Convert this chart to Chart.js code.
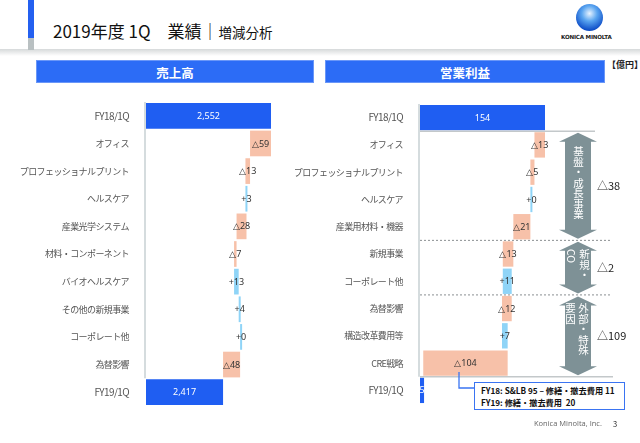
<!DOCTYPE html>
<html>
<head>
<meta charset="utf-8">
<script src="https://cdn.jsdelivr.net/npm/chart.js@4"></script>
<style>
  body { margin: 0; background: #fff; font-family: "Noto Sans CJK JP", "Noto Sans", sans-serif; }
  #page { position: relative; width: 640px; height: 443px; overflow: hidden; background: #fff; }
  .abs { position: absolute; }
  #stripe { left: 28px; top: 0; width: 6px; height: 38px; background: #2460f0; }
  #stripe2 { left: 28px; top: 38px; width: 6px; height: 12px; background: #b9c0c2; }
  #shadow { left: 0; top: 49px; width: 640px; height: 7px; background: linear-gradient(#d6d9da, #fff); }
  #title { left: 53px; top: 18px; font-size: 17px; color: #111; white-space: nowrap; }
  #title small { font-size: 13.5px; }
  .head { top: 60px; height: 23px; line-height: 23px; background: #2c6cf6; border: 1px solid #6a97f8; color: #fff;
          font-weight: bold; font-size: 12.5px; text-align: center; box-sizing: border-box; }
  #unit { left: 607px; top: 58px; font-size: 9px; font-weight: bold; color: #222; }
  #logo { left: 576px; top: 4px; width: 27px; height: 27px; border-radius: 50%;
          background: radial-gradient(circle at 50% 35%, #e8f3ff 0%, #5aa5f0 35%, #0f4fc8 75%, #0a3690 100%); }
  #logotext { left: 561px; top: 34px; font-size: 5.6px; font-weight: bold; color: #222; font-family: "DejaVu Sans"; letter-spacing: -0.2px; }
  .vt { writing-mode: vertical-rl; color: #fff; font-size: 10.5px; line-height: 13px; white-space: nowrap; }
  #note { left: 474px; top: 382px; width: 151px; height: 28px; border: 1.5px solid #3a74f2; box-sizing: border-box; background: #fff;
          font-size: 8.2px; font-weight: bold; color: #111; line-height: 12px; padding: 1px 0 0 6px; white-space: nowrap; }
  #foot { left: 534px; top: 418px; font-size: 7.5px; color: #666; font-family: "Open Sans"; }
  #pg { left: 613px; top: 418px; font-size: 7.5px; color: #222; }
</style>
</head>
<body>
<div id="page">
  <div class="abs" id="shadow"></div>
  <div class="abs" id="stripe"></div>
  <div class="abs" id="stripe2"></div>
  <div class="abs" id="title">2019年度 1Q　業績｜<small>増減分析</small></div>
  <div class="abs" id="logo"></div>
  <div class="abs" id="logotext">KONICA MINOLTA</div>
  <div class="abs head" style="left:36px;width:278px;">売上高</div>
  <div class="abs head" style="left:325px;width:280px;">営業利益</div>
  <div class="abs" id="unit">【億円】</div>

  <canvas class="abs" id="salesChart" width="290" height="304" style="left:20px;top:102px;"></canvas>
  <canvas class="abs" id="profitChart" width="345" height="300" style="left:295px;top:104px;"></canvas>

  <div class="abs vt" style="left:572px;top:146px;">基盤・成長事業</div>
  <div class="abs vt" style="left:565px;top:249px;">新規・<br>CO</div>
  <div class="abs vt" style="left:564px;top:303px;">外部・特殊<br>要因</div>

  <div class="abs" id="note">FY18: S&amp;LB 95 – 修繕・撤去費用 11<br>FY19: 修繕・撤去費用&nbsp; 20</div>
  <div class="abs" id="foot">Konica Minolta, Inc.</div>
  <div class="abs" id="pg">3</div>
</div>
<script>
const salesCats = ["FY18/1Q", "オフィス", "プロフェッショナルプリント", "ヘルスケア", "産業光学システム",
    "材料・コンポーネント", "バイオヘルスケア", "その他の新規事業", "コーポレート他", "為替影響", "FY19/1Q"];
const salesValues = [2552, -59, -13, 3, -28, -7, 13, 4, 0, -48, 2417];

const profitCats = ["FY18/1Q", "オフィス", "プロフェッショナルプリント", "ヘルスケア", "産業用材料・機器",
    "新規事業", "コーポレート他", "為替影響", "構造改革費用等", "CRE戦略", "FY19/1Q"];
const profitValues = [154, -13, -5, 0, -21, -13, 11, -12, 7, -104, 5];

// group totals shown next to the arrows, and the category index where each group ends
const groupLabels = ["△38", "△2", "△109"];
const groupEnds = [4, 6, 9];

const TOTAL = "#1f5ef2", NEG = "#f7c1a9", POS = "#8fd4f7";

function waterfall(values, base) {
    let run = 0;
    return values.map((v, i) => {
        if (i === 0 || i === values.length - 1) { run = v; return [base, v]; }
        const from = run;
        run += v;
        return [from, run];
    });
}

function colours(values) {
    return values.map((v, i) => (i === 0 || i === values.length - 1) ? TOTAL : (v < 0 ? NEG : POS));
}

function labelText(v, i, n) {
    if (i === 0 || i === n - 1) return v.toLocaleString("en-US");
    return v < 0 ? "△" + Math.abs(v) : "+" + v;
}

function boundary(scale, i) {
    return (scale.getPixelForValue(i) + scale.getPixelForValue(i + 1)) / 2;
}

// tighter tick labels, closer to the narrow font of the slide
const tightTicks = {
    id: "tightTicks",
    beforeDraw(chart) { chart.ctx.letterSpacing = "-0.6px"; },
    beforeDatasetsDraw(chart) { chart.ctx.letterSpacing = "0px"; }
};

const barLabels = {
    id: "barLabels",
    afterDatasetsDraw(chart) {
        const ctx = chart.ctx;
        const values = chart.options.plugins.barLabels.values;
        const meta = chart.getDatasetMeta(0);
        ctx.save();
        ctx.font = "9px 'Noto Sans', sans-serif";
        ctx.textAlign = "center";
        ctx.textBaseline = "middle";
        meta.data.forEach((bar, i) => {
            const total = i === 0 || i === values.length - 1;
            ctx.fillStyle = total ? "#fff" : "#333";
            ctx.fillText(labelText(values[i], i, values.length), (bar.x + bar.base) / 2, bar.y + 0.5);
        });
        // y axis line, stops at the last category
        const y = chart.scales.y, a = chart.chartArea;
        ctx.strokeStyle = "#d5dcde";
        ctx.lineWidth = 2;
        ctx.beginPath();
        ctx.moveTo(a.left - 1, a.top - 2);
        ctx.lineTo(a.left - 1, boundary(y, values.length - 2));
        ctx.stroke();
        ctx.restore();
    }
};

const groups = {
    id: "groups",
    afterDraw(chart) {
        if (!chart.options.plugins.groups.on) return;
        const ctx = chart.ctx, y = chart.scales.y, a = chart.chartArea;
        const top = boundary(y, 0);
        const ends = groupEnds.map(e => boundary(y, e));
        ctx.save();
        ctx.strokeStyle = "#c3c8ca";
        ctx.lineWidth = 1.5;
        ctx.beginPath();
        ctx.moveTo(a.left, top); ctx.lineTo(a.left + 175, top);
        ctx.moveTo(a.left, ends[2]); ctx.lineTo(a.left + 193, ends[2]);
        ctx.stroke();
        ctx.strokeStyle = "#8a8f91";
        ctx.lineWidth = 1;
        ctx.setLineDash([2, 2]);
        ctx.beginPath();
        [ends[0], ends[1]].forEach(py => { ctx.moveTo(a.left, py); ctx.lineTo(a.left + 192, py); });
        ctx.stroke();
        ctx.setLineDash([]);

        const cx = a.left + 158, sw = 13, hw = 19, hl = 9;
        let start = top;
        ends.forEach((end, k) => {
            const t = start + 1.5, b = end - 1.5;
            ctx.fillStyle = "#7e9196";
            ctx.beginPath();
            ctx.moveTo(cx, t);
            ctx.lineTo(cx + hw, t + hl); ctx.lineTo(cx + sw, t + hl);
            ctx.lineTo(cx + sw, b - hl); ctx.lineTo(cx + hw, b - hl);
            ctx.lineTo(cx, b);
            ctx.lineTo(cx - hw, b - hl); ctx.lineTo(cx - sw, b - hl);
            ctx.lineTo(cx - sw, t + hl); ctx.lineTo(cx - hw, t + hl);
            ctx.closePath();
            ctx.fill();
            ctx.fillStyle = "#222";
            ctx.font = "11px 'Noto Sans CJK JP', sans-serif";
            ctx.textAlign = "left";
            ctx.textBaseline = "middle";
            ctx.fillText(groupLabels[k], cx + 19, (start + end) / 2);
            start = end;
        });
        ctx.restore();
    }
};

function makeChart(id, cats, values, min, max, axisWidth, withGroups) {
    return new Chart(document.getElementById(id), {
        type: "bar",
        data: {
            labels: cats,
            datasets: [{
                data: waterfall(values, min),
                backgroundColor: colours(values),
                borderWidth: 0,
                barPercentage: 1,
                categoryPercentage: 0.93,
                minBarLength: 2
            }]
        },
        options: {
            indexAxis: "y",
            responsive: false,
            animation: false,
            layout: { padding: 0 },
            scales: {
                x: { display: false, min, max },
                y: {
                    grid: { display: false },
                    border: { display: false },
                    ticks: {
                        color: "#555",
                        padding: 9,
                        font: (c) => ({
                            size: String(c.tick && c.tick.label).startsWith("FY") ? 10 : 9,
                            family: "'Noto Sans CJK JP', sans-serif"
                        })
                    },
                    afterFit(scale) {
                        scale.width = axisWidth;
                        scale.paddingTop = 0;
                        scale.paddingBottom = 0;
                    }
                }
            },
            plugins: {
                legend: { display: false },
                tooltip: { enabled: false },
                barLabels: { values },
                groups: { on: withGroups }
            }
        },
        plugins: [tightTicks, barLabels, groups]
    });
}

const salesChart = makeChart("salesChart", salesCats, salesValues, 2200, 2661.8, 126, false);
const profitChart = makeChart("profitChart", profitCats, profitValues, 0, 271.04, 125, true);
</script>
<svg class="abs" style="position:absolute;left:0;top:0;" width="640" height="443">
  <polyline points="459,372 459,388 474,388" fill="none" stroke="#3a74f2" stroke-width="1.3"/>
</svg>
</body>
</html>
